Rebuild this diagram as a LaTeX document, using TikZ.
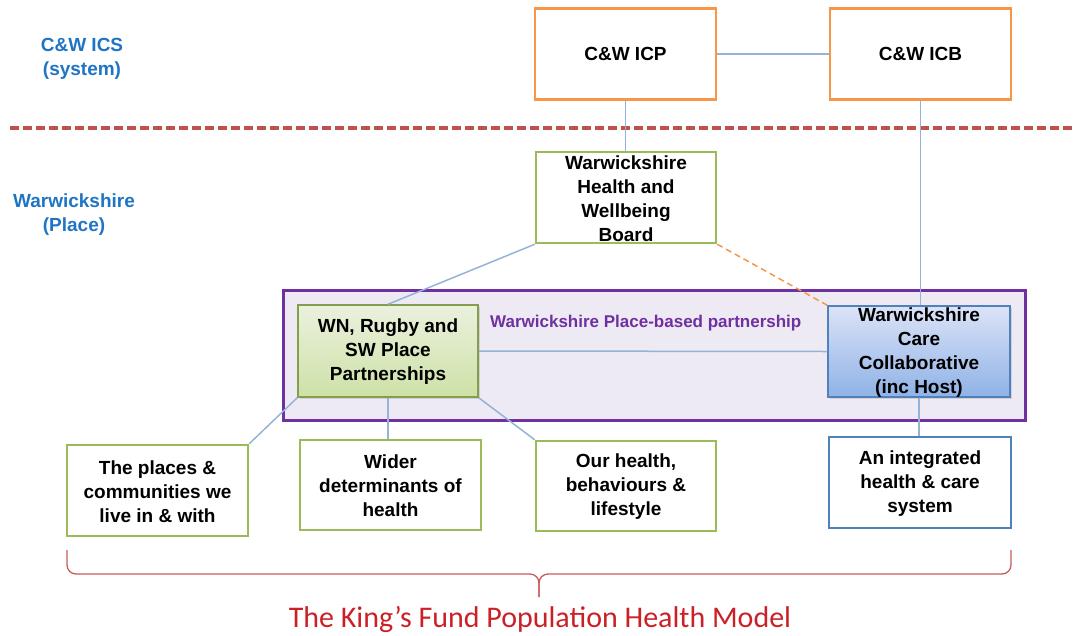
\documentclass[tikz,border=0pt]{standalone}
\usepackage{fontspec}
\setmainfont{Liberation Sans}
\newfontfamily\calfont{Carlito}
\usetikzlibrary{shadows}
\definecolor{orgC}{HTML}{F79646}
\definecolor{grnC}{HTML}{9BBB59}
\definecolor{bluC}{HTML}{4F81BD}
\definecolor{connC}{HTML}{95B3D7}
\definecolor{lblC}{HTML}{1F74C4}
\definecolor{purC}{HTML}{7030A0}
\definecolor{purFill}{HTML}{EEEAF4}
\definecolor{sepC}{HTML}{C0504D}
\definecolor{titleC}{HTML}{CC2027}
\definecolor{braceC}{HTML}{C85A5A}
\definecolor{wnTop}{HTML}{EBF1DE}
\definecolor{wnBot}{HTML}{CDE1A6}
\definecolor{wccTop}{HTML}{DCE3F7}
\definecolor{wccBot}{HTML}{8FB2E6}
\begin{document}
\begin{tikzpicture}[x=1pt,y=-1pt,
  boxbase/.style={minimum width=181pt, minimum height=91pt, inner sep=0pt, line width=2.5pt},
  orangebox/.style={boxbase, draw=orgC, fill=white},
  greenbox/.style={boxbase, draw=grnC, fill=white},
  bluebox/.style={boxbase, draw=bluC, fill=white},
  wnbox/.style={boxbase, line width=1.5pt, draw=grnC!85!black, top color=wnTop, bottom color=wnBot,
     drop shadow={shadow xshift=2pt, shadow yshift=-2pt, opacity=0.25}},
  wccbox/.style={boxbase, line width=1.5pt, draw=bluC, top color=wccTop, bottom color=wccBot,
     drop shadow={shadow xshift=2pt, shadow yshift=-2pt, opacity=0.25}},
  txt/.style={font=\bfseries\fontsize{19}{24}\selectfont, align=center, inner sep=0pt},
  sidelbl/.style={font=\bfseries\fontsize{19}{24}\selectfont, align=center, inner sep=0pt, text=lblC},
  conn/.style={draw=connC, line width=1.5pt},
  dashconn/.style={draw=orgC, line width=1.5pt, dash pattern=on 6pt off 4pt},
  sepline/.style={draw=sepC, line width=4pt, dash pattern=on 9pt off 4pt},
  bracepath/.style={draw=braceC, line width=1.3pt, rounded corners=9pt}
]
\useasboundingbox (0,0) rectangle (1076,635);

% side labels
\node[sidelbl] (lics) at (82,59) {C\&W ICS\\(system)};
\node[sidelbl] (lplace) at (74,215) {Warwickshire\\(Place)};

% separator
\coordinate (sepL) at (10,128);
\coordinate (sepR) at (1076,128);
\draw[sepline] (sepL) -- (sepR);

% container
\node[draw=purC, line width=3pt, fill=purFill, minimum width=742pt, minimum height=130pt, inner sep=0pt] (cont) at (654,355) {};
\node[anchor=west, font=\bfseries\fontsize{17}{20}\selectfont, text=purC, inner sep=0pt] (contlbl) at (490,323) {Warwickshire Place-based partnership};

% top boxes
\node[orangebox] (icp) at (625.5,54) {};
\node[orangebox] (icb) at (920.5,54) {};
\node[greenbox, minimum width=180pt] (hwb) at (626,197.5) {};

% partnership boxes
\node[wnbox, minimum width=180pt, minimum height=92pt] (wn) at (388,351) {};
\node[wccbox, minimum width=182pt] (wcc) at (919,351.5) {};

% bottom boxes
\node[greenbox] (places) at (157.5,490.5) {};
\node[greenbox, minimum height=90pt] (wider) at (390.5,485) {};
\node[greenbox, minimum width=180pt, minimum height=90pt] (ours) at (626,486) {};
\node[bluebox, minimum width=182pt] (integ) at (920,482.5) {};

% connectors
\draw[conn] (icp.east) -- (icb.west);
\draw[conn] (icp.south) -- (icp.south |- hwb.north);
\draw[conn] (icb.south) -- (icb.south |- wcc.north);
\draw[conn] (hwb.south west) -- (wn.north);
\draw[dashconn] (hwb.south east) -- (wcc.north west);
\draw[conn] (wn.east) -- (wcc.west);
\draw[conn] (wn.south west) -- (places.north east);
\draw[conn] (wn.south) -- (wn.south |- wider.north);
\draw[conn] (wn.south east) -- (ours.north west);
\draw[conn] (wcc.south) -- (wcc.south |- integ.north);

% texts
\node[txt] (ticp) at (icp) {C\&W ICP};
\node[txt] (ticb) at (icb) {C\&W ICB};
\node[txt] (thwb) at ([yshift=-1.5pt]hwb.center) {Warwickshire\\Health and\\Wellbeing\\Board};
\node[txt] (twn) at ([yshift=-1pt]wn.center) {WN, Rugby and\\SW Place\\Partnerships};
\node[txt] (twcc) at ([yshift=-1.5pt]wcc.center) {Warwickshire\\Care\\Collaborative\\(inc Host)};
\node[txt] (tplaces) at ([yshift=-1pt]places.center) {The places \&\\communities we\\live in \& with};
\node[txt] (twider) at ([yshift=-1pt]wider.center) {Wider\\determinants of\\health};
\node[txt] (tours) at ([yshift=-1pt]ours.center) {Our health,\\behaviours \&\\lifestyle};
\node[txt] (tinteg) at ([yshift=-1pt]integ.center) {An integrated\\health \& care\\system};

% brace
\coordinate (brL) at (67,550);
\coordinate (brR) at (1011,550);
\coordinate (brM) at (539,574);
\coordinate (brT) at (539,597);
\draw[bracepath] (brL) -- (brL |- brM) -- (brM) -- (brT);
\draw[bracepath] (brR) -- (brR |- brM) -- (brM) -- (brT);

% title
\node[font=\calfont\fontsize{30}{33}\selectfont, text=titleC, inner sep=0pt] (title) at (540,619) {The King’s Fund Population Health Model};
\end{tikzpicture}
\end{document}
